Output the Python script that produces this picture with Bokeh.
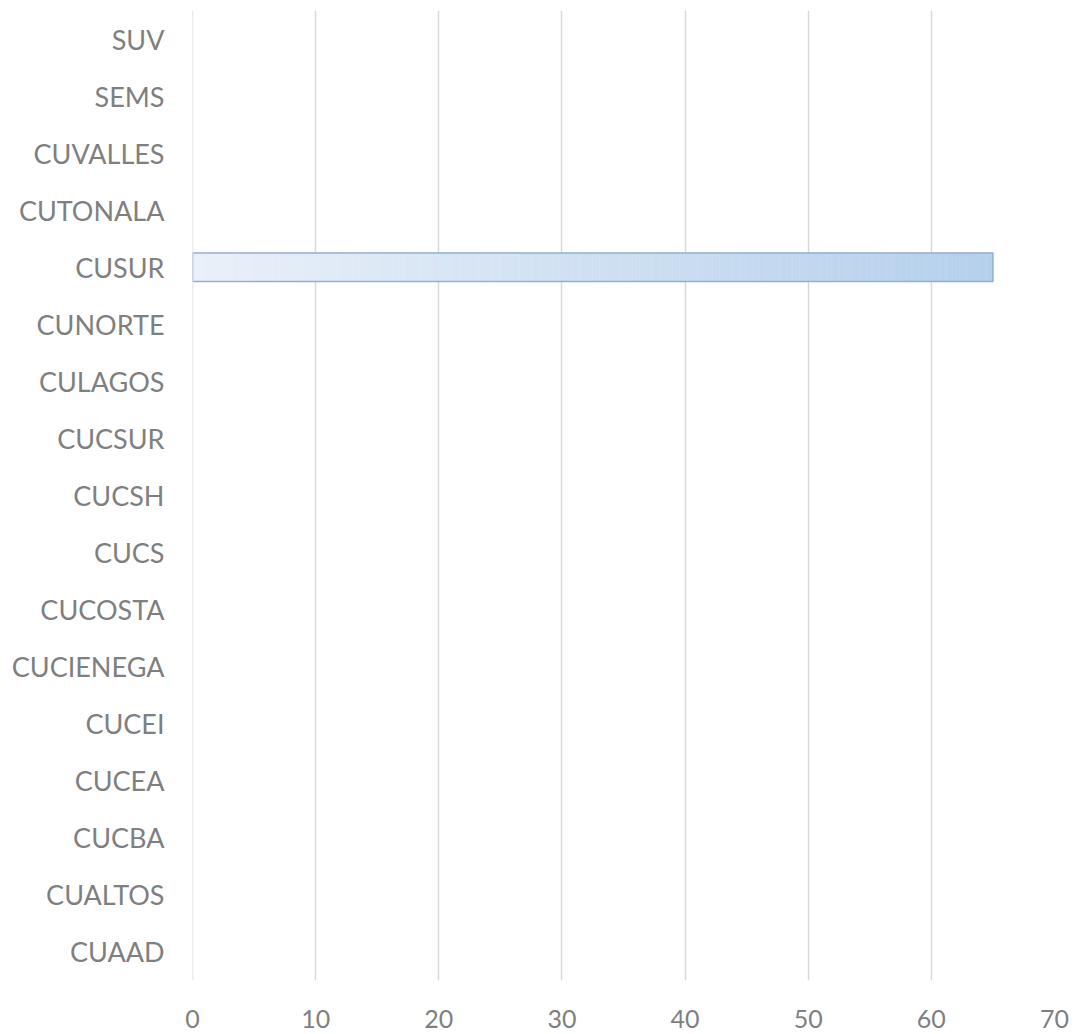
from bokeh.plotting import figure
from bokeh.models import Range1d, FactorRange, FixedTicker, Span
from bokeh.embed import file_html
from bokeh.resources import INLINE

categories = ["CUAAD", "CUALTOS", "CUCBA", "CUCEA", "CUCEI", "CUCIENEGA", "CUCOSTA",
              "CUCS", "CUCSH", "CUCSUR", "CULAGOS", "CUNORTE", "CUSUR", "CUTONALA",
              "CUVALLES", "SEMS", "SUV"]
values = [0, 0, 0, 0, 0, 0, 0, 0, 0, 0, 0, 0, 65, 0, 0, 0, 0]
x_ticks = [0, 10, 20, 30, 40, 50, 60, 70]

p = figure(width=1070, height=1034, output_backend="svg", toolbar_location=None,
           y_range=FactorRange(factors=categories, range_padding=0),
           x_range=Range1d(0, 70),
           min_border_left=192, min_border_right=16, min_border_top=10, min_border_bottom=54)
p.outline_line_color = None

p.xaxis.ticker = FixedTicker(ticks=x_ticks)
p.xgrid.ticker = FixedTicker(ticks=x_ticks)
p.xgrid.grid_line_color = "#d9d9d9"
p.xgrid.grid_line_width = 1.5
p.ygrid.grid_line_color = None
p.add_layout(Span(location=0, dimension="height", line_color="#d9d9d9", line_width=1.5))

# gradient fill built from slices of each bar
c0 = (234, 240, 249)
c1 = (181, 208, 236)
N = 120
sl_y, sl_l, sl_r, sl_c = [], [], [], []
for cat, v in zip(categories, values):
    if v <= 0:
        continue
    for i in range(N):
        t = (i + 0.5) / N
        col = tuple(int(round(a + (b - a) * t)) for a, b in zip(c0, c1))
        sl_y.append(cat)
        sl_l.append(v * i / N)
        sl_r.append(v * (i + 1) / N)
        sl_c.append("#%02x%02x%02x" % col)
p.hbar(y=sl_y, left=sl_l, right=sl_r, height=0.5, fill_color=sl_c, line_color=sl_c, line_width=0.5)

bar_cats = [c for c, v in zip(categories, values) if v > 0]
bar_vals = [v for v in values if v > 0]
p.hbar(y=bar_cats, left=0, right=bar_vals, height=0.5, fill_alpha=0,
       line_color="#8fb1d2", line_width=1.5)

for ax in (p.xaxis, p.yaxis):
    ax.axis_line_color = None
    ax.major_tick_line_color = None
    ax.minor_tick_line_color = None
    ax.major_label_text_color = "#7f7f7f"
    ax.major_label_text_font = "Lato"
p.yaxis.major_label_text_font_size = "27px"
p.xaxis.major_label_text_font_size = "25px"
p.xaxis.major_label_standoff = 23
p.yaxis.major_label_standoff = 22

open("out.html", "w").write(file_html(p, INLINE))
